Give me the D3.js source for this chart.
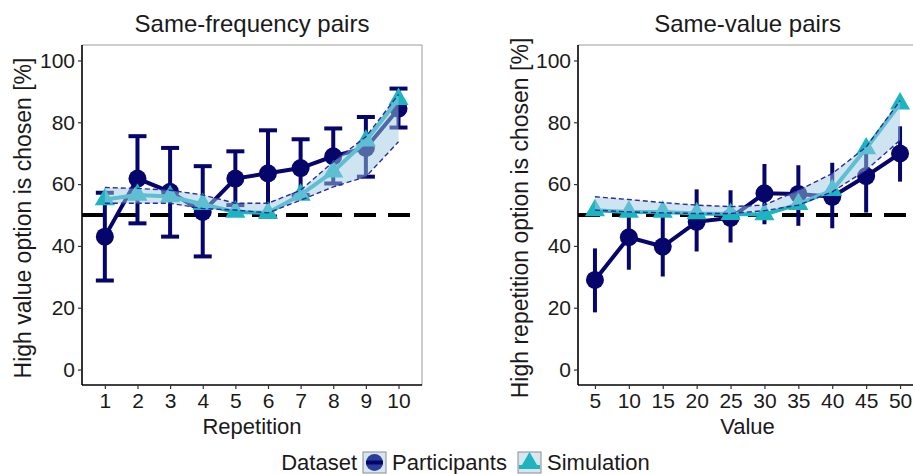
<!DOCTYPE html>
<html>
<head>
<meta charset="utf-8">
<script src="https://cdn.jsdelivr.net/npm/d3@7.9.0/dist/d3.min.js"></script>
<style>
  body { margin: 0; background: #fff; }
  svg { display: block; font-family: "Liberation Sans", Arial, sans-serif; }
</style>
</head>
<body>
<svg id="chart" width="913" height="474"></svg>
<script>
// Same-frequency pairs
const repetitions = [1, 2, 3, 4, 5, 6, 7, 8, 9, 10];
const freqPartMean = [43, 61.8, 57.5, 51, 61.8, 63.5, 65.2, 69, 71.7, 84.4];
const freqPartLo   = [28.8, 47.3, 43, 36.6, 53.2, 49.5, 56.5, 60.2, 62.4, 78.3];
const freqPartHi   = [57.2, 75.5, 71.7, 65.8, 70.6, 77.4, 74.5, 78, 81.7, 90.9];
const freqSimMean  = [55, 56.5, 56, 53.5, 51, 50.7, 56.5, 64, 74, 87.5];
const freqSimLo    = [53.8, 53.8, 53.8, 52.1, 51.6, 50.7, 54.8, 59.1, 62.4, 73.7];
const freqSimHi    = [58.9, 58.6, 58, 56.5, 53.8, 53.8, 58, 67.2, 75.3, 89];

// Same-value pairs
const values = [5, 10, 15, 20, 25, 30, 35, 40, 45, 50];
const valPartMean = [29, 42.8, 39.8, 47.8, 49.1, 57, 56.8, 55.9, 62.6, 69.9];
const valPartLo   = [18.5, 32.3, 30.1, 38.2, 41.1, 47, 46.5, 45.7, 50.8, 60.8];
const valPartHi   = [39.2, 53.4, 50.5, 58.3, 58, 66.5, 66.1, 66.9, 72.3, 78.7];
const valSimMean  = [51.5, 51, 51, 50.5, 50.3, 50.2, 53.5, 58, 71.5, 86];
const valSimLo    = [51.6, 51, 50.7, 50.5, 50.5, 51.4, 53.2, 57.5, 64.5, 74.2];
const valSimHi    = [55.9, 55, 54, 53.2, 52.7, 53.2, 58, 63.4, 72, 87];

const yTicks = [0, 20, 40, 60, 80, 100];
const chanceLevel = 50;

const NAVY = '#05056b';
const CYAN = '#1db4c0';
const BAND = '#9ecae1';
const BAND_EDGE = '#2b2b9e';

const svg = d3.select('#chart');
svg.append('rect').attr('width', 913).attr('height', 474).attr('fill', '#fff');

function drawPanel(opts) {
  const { left, right, top, bottom, xs, xDomain, title, xTitle, yTitle, yTitleX, caps } = opts;
  const x = d3.scaleLinear().domain(xDomain).range([left, right]);
  const y = d3.scaleLinear().domain([-5, 105]).range([bottom, top]);
  const g = svg.append('g');

  const clipId = 'clip' + Math.round(left);
  g.append('clipPath').attr('id', clipId)
    .append('rect').attr('x', left).attr('y', top).attr('width', right - left).attr('height', bottom - top);
  const plot = g.append('g').attr('clip-path', `url(#${clipId})`);

  // chance line
  plot.append('line')
    .attr('x1', left).attr('x2', right)
    .attr('y1', y(chanceLevel)).attr('y2', y(chanceLevel))
    .attr('stroke', '#000').attr('stroke-width', 4)
    .attr('stroke-dasharray', '22,12');

  // participants: error bars
  const pts = xs.map((v, i) => ({ x: v, m: opts.partMean[i], lo: opts.partLo[i], hi: opts.partHi[i] }));
  plot.selectAll('.err').data(pts).join('line')
    .attr('x1', d => x(d.x)).attr('x2', d => x(d.x))
    .attr('y1', d => y(d.lo)).attr('y2', d => y(d.hi))
    .attr('stroke', NAVY).attr('stroke-width', 4);
  if (caps) {
    ['lo', 'hi'].forEach(k => {
      plot.selectAll('.cap' + k).data(pts).join('line')
        .attr('x1', d => x(d.x) - 9).attr('x2', d => x(d.x) + 9)
        .attr('y1', d => y(d[k])).attr('y2', d => y(d[k]))
        .attr('stroke', NAVY).attr('stroke-width', 4);
    });
  }
  const line = d3.line().x(d => x(d.x)).y(d => y(d.m));
  plot.append('path').datum(pts).attr('d', line)
    .attr('fill', 'none').attr('stroke', NAVY).attr('stroke-width', 4);
  plot.selectAll('.pt').data(pts).join('circle')
    .attr('cx', d => x(d.x)).attr('cy', d => y(d.m)).attr('r', 9)
    .attr('fill', NAVY);

  // simulation
  const sim = xs.map((v, i) => ({ x: v, m: opts.simMean[i], lo: opts.simLo[i], hi: opts.simHi[i] }));
  plot.append('path').datum(sim).attr('d', line)
    .attr('fill', 'none').attr('stroke', CYAN).attr('stroke-width', 4);
  plot.selectAll('.tri').data(sim).join('path')
    .attr('d', d3.symbol(d3.symbolTriangle, 175))
    .attr('transform', d => `translate(${x(d.x)},${y(d.m)})`)
    .attr('fill', CYAN);

  // simulation band
  plot.append('path').datum(sim)
    .attr('d', d3.area().x(d => x(d.x)).y0(d => y(d.lo)).y1(d => y(d.hi)))
    .attr('fill', BAND).attr('fill-opacity', 0.5);
  ['lo', 'hi'].forEach(k => {
    plot.append('path').datum(sim)
      .attr('d', d3.line().x(d => x(d.x)).y(d => y(d[k])))
      .attr('fill', 'none').attr('stroke', BAND_EDGE).attr('stroke-width', 1.4)
      .attr('stroke-dasharray', '5,3');
  });

  // frame: top/right thin grey
  g.append('path')
    .attr('d', `M${left},${top}H${right}V${bottom}`)
    .attr('fill', 'none').attr('stroke', '#9a9a9a').attr('stroke-width', 1);

  // axes
  const xAxis = d3.axisBottom(x).tickValues(xs).tickSize(4).tickPadding(4).tickFormat(d3.format('d'));
  const yAxis = d3.axisLeft(y).tickValues(yTicks).tickSize(4).tickPadding(3);
  const gx = g.append('g').attr('transform', `translate(0,${bottom})`).call(xAxis);
  const gy = g.append('g').attr('transform', `translate(${left},0)`).call(yAxis);
  [gx, gy].forEach(a => {
    a.select('.domain').attr('stroke', '#000').attr('stroke-width', 1.6)
      .attr('d', a === gx ? `M${left},0H${right}` : `M0,${top}V${bottom}`);
    a.selectAll('.tick line').attr('stroke', '#333').attr('stroke-width', 1.2);
    a.selectAll('.tick text').attr('fill', '#1a1a1a')
      .style('font-size', '21px').style('font-family', '"Liberation Sans", Arial, sans-serif');
  });

  // titles
  g.append('text').attr('x', (left + right) / 2).attr('y', 32)
    .attr('text-anchor', 'middle').attr('fill', '#1a1a1a')
    .style('font-size', '24px').text(title);
  g.append('text').attr('x', (left + right) / 2).attr('y', 434)
    .attr('text-anchor', 'middle').attr('fill', '#1a1a1a')
    .style('font-size', '22px').text(xTitle);
  g.append('text')
    .attr('transform', `translate(${yTitleX},${(top + bottom) / 2 + 3}) rotate(-90)`)
    .attr('text-anchor', 'middle').attr('fill', '#1a1a1a')
    .style('font-size', '23px').text(yTitle);
}

drawPanel({
  left: 82, right: 422, top: 45, bottom: 385,
  xs: repetitions, xDomain: [0.3, 10.72],
  partMean: freqPartMean, partLo: freqPartLo, partHi: freqPartHi,
  simMean: freqSimMean, simLo: freqSimLo, simHi: freqSimHi,
  title: 'Same-frequency pairs', xTitle: 'Repetition',
  yTitle: 'High value option is chosen [%]', yTitleX: 31, caps: true
});

drawPanel({
  left: 578, right: 917, top: 45, bottom: 385,
  xs: values, xDomain: [2.5, 52.5],
  partMean: valPartMean, partLo: valPartLo, partHi: valPartHi,
  simMean: valSimMean, simLo: valSimLo, simHi: valSimHi,
  title: 'Same-value pairs', xTitle: 'Value',
  yTitle: 'High repetition option is chosen [%]', yTitleX: 528, caps: false
});

// legend
const legend = svg.append('g').style('font-size', '22px').attr('fill', '#1a1a1a');
legend.append('text').attr('x', 357).attr('y', 470).attr('text-anchor', 'end').text('Dataset');
const keys = [
  { x: 363, label: 'Participants', shape: 'circle' },
  { x: 518, label: 'Simulation', shape: 'triangle' }
];
keys.forEach(k => {
  const kg = legend.append('g').attr('transform', `translate(${k.x},452)`);
  kg.append('rect').attr('width', 23).attr('height', 21)
    .attr('fill', '#d6e7f2').attr('stroke', '#8c8c8c').attr('stroke-width', 1);
  if (k.shape === 'circle') {
    kg.append('circle').attr('cx', 11.5).attr('cy', 10.5).attr('r', 8.5).attr('fill', '#2a3d9c');
    kg.append('line').attr('x1', 3).attr('x2', 20).attr('y1', 10.5).attr('y2', 10.5)
      .attr('stroke', NAVY).attr('stroke-width', 4);
  } else {
    kg.append('path').attr('d', d3.symbol(d3.symbolTriangle, 160))
      .attr('transform', 'translate(11.5,11)').attr('fill', CYAN);
    kg.append('line').attr('x1', 1).attr('x2', 22).attr('y1', 15).attr('y2', 15)
      .attr('stroke', CYAN).attr('stroke-width', 4);
  }
  legend.append('text').attr('x', k.x + 29).attr('y', 470).text(k.label);
});
</script>
</body>
</html>
